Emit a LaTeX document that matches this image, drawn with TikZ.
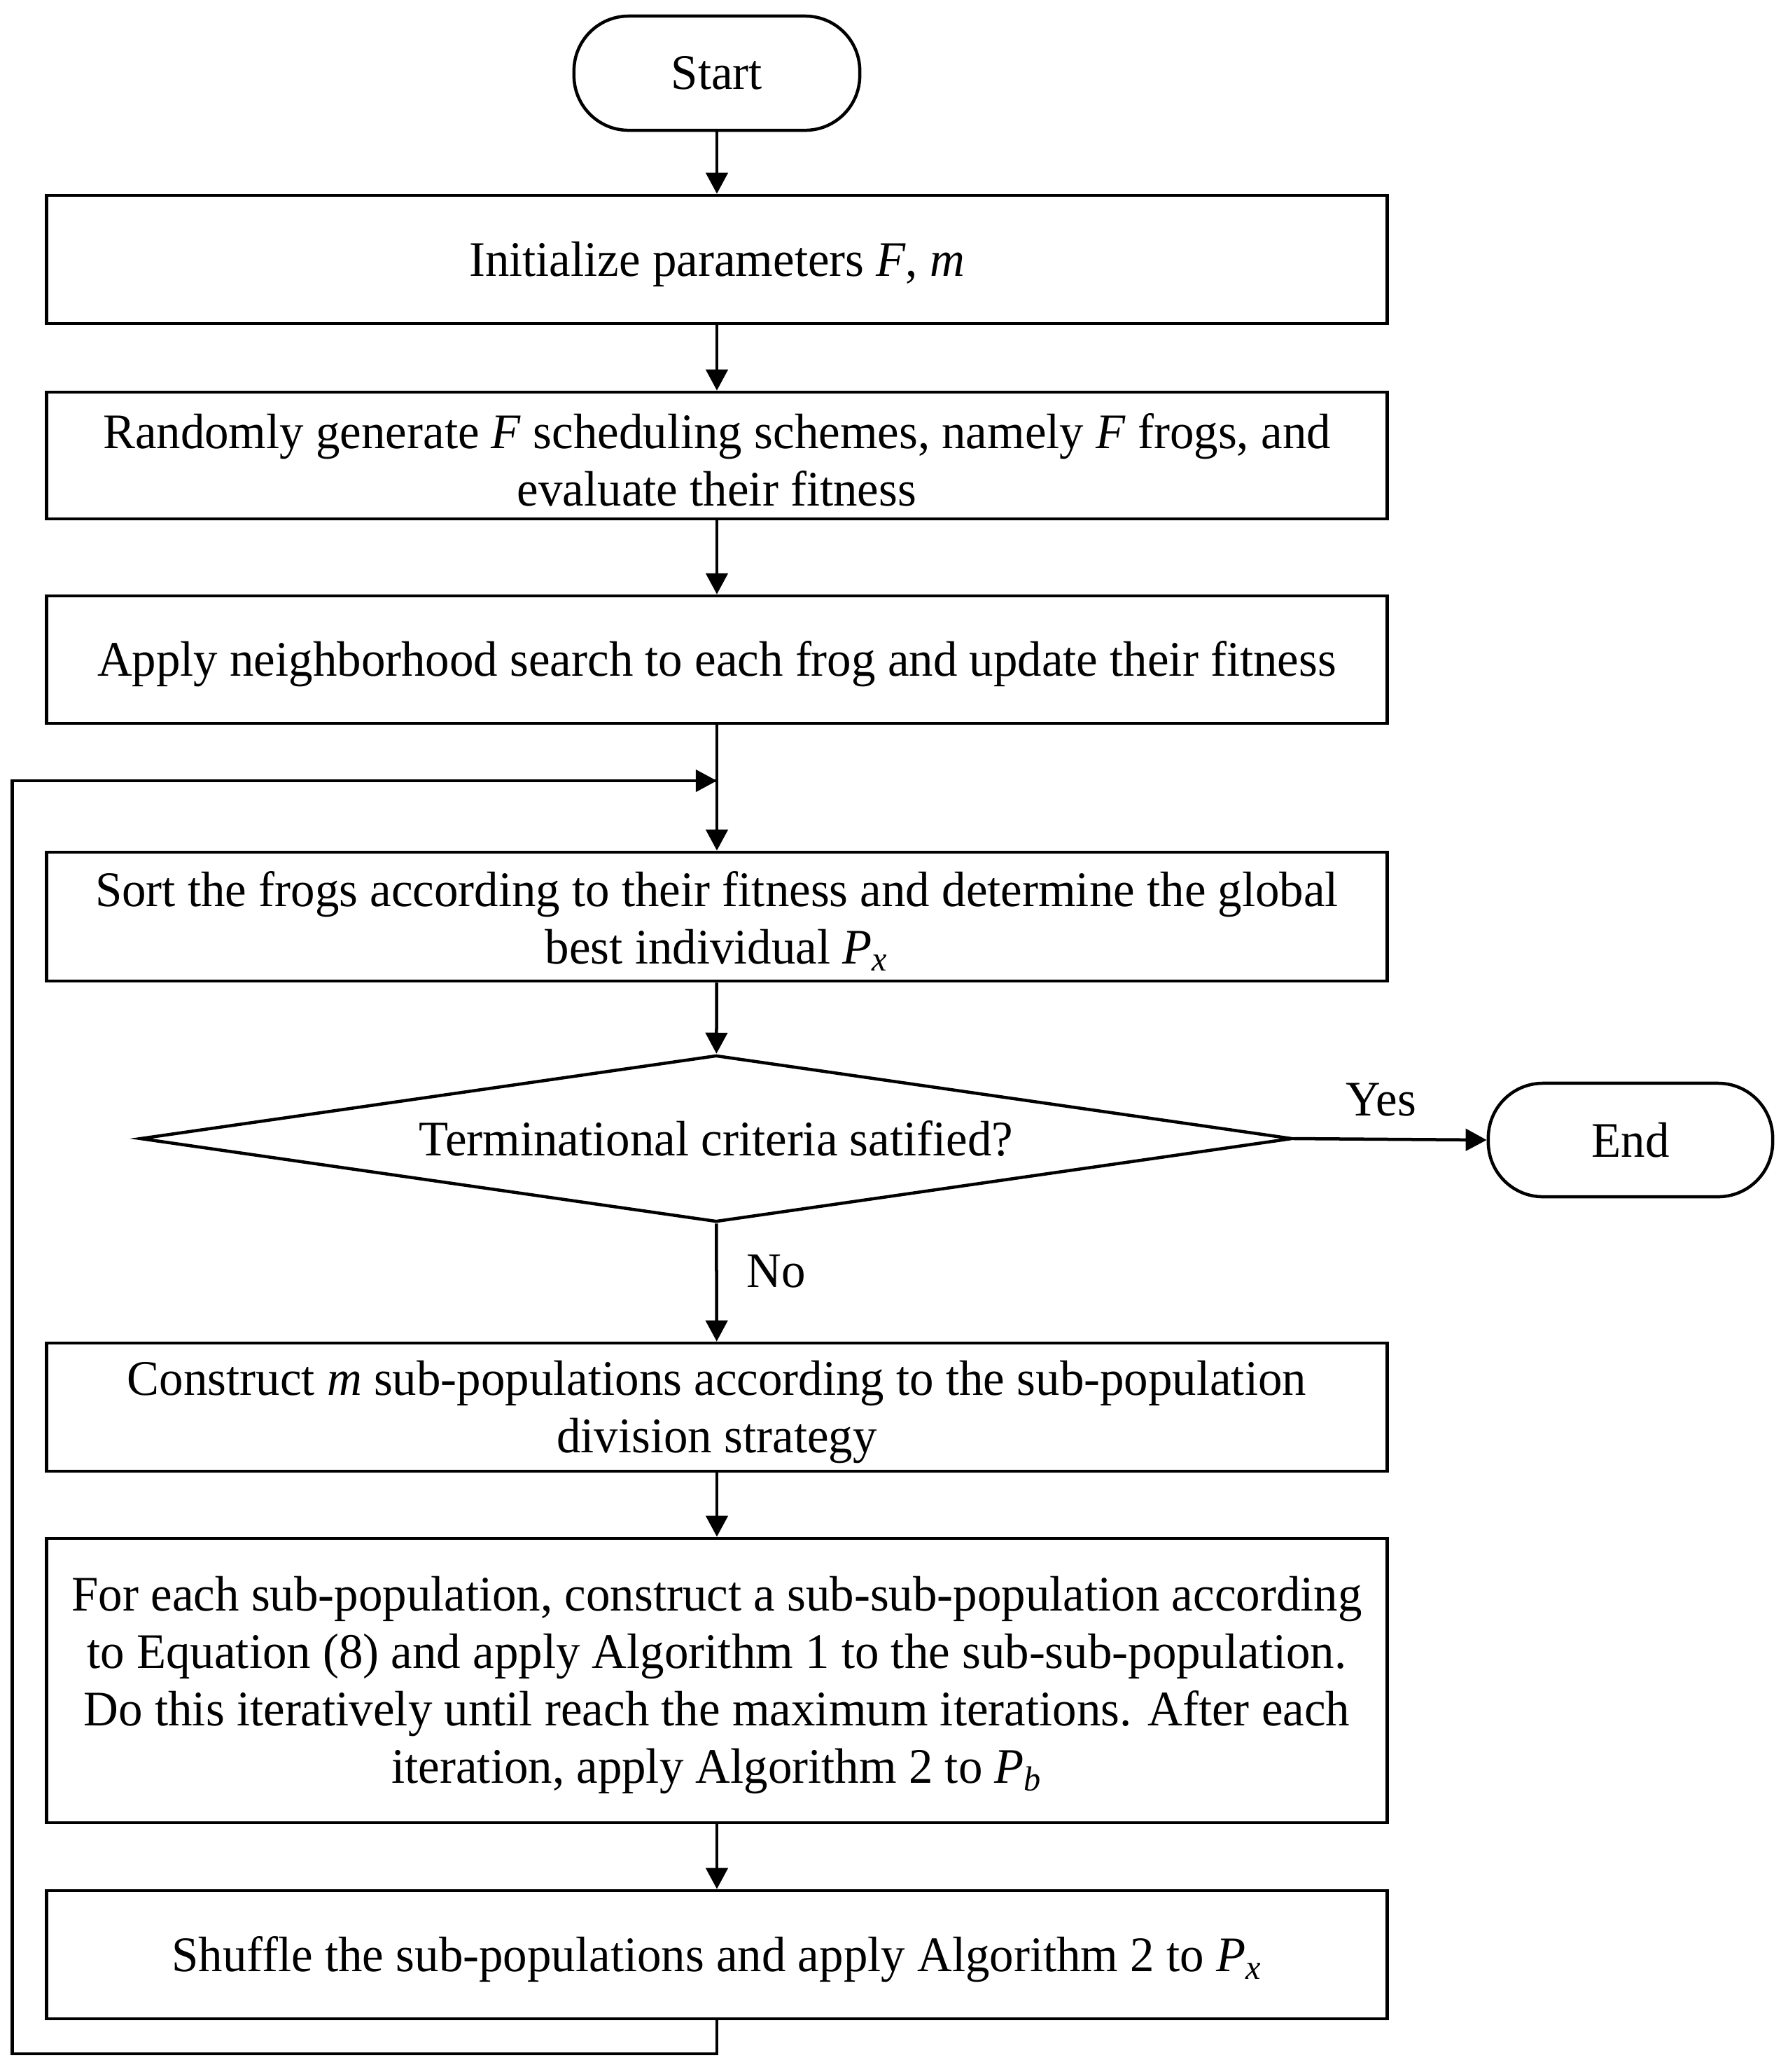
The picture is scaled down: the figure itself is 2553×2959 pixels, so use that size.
\documentclass[tikz,border=0pt]{standalone}
\usepackage{fontspec}
\setmainfont{Liberation Serif}[FakeStretch=0.97]
\usetikzlibrary{arrows.meta,shapes.geometric}
\newcommand{\tup}{\rule{0pt}{0.63cm}}
\begin{document}
\begin{tikzpicture}[x=0.01cm,y=-0.01cm,
  every node/.style={font=\fontsize{20.2}{23.3}\selectfont},
  procbox/.style={draw,line width=0.045cm,rectangle,minimum width=19.14cm,align=center,inner sep=0pt},
  termbox/.style={draw,line width=0.045cm,rectangle,rounded corners=0.78cm,minimum width=4.08cm,minimum height=1.63cm,inner sep=0pt},
  decbox/.style={draw,line width=0.045cm,diamond,aspect=6.9,minimum width=16.45cm,minimum height=2.38cm,inner sep=0pt},
  flow/.style={line width=0.045cm,-{Triangle[length=0.3cm,width=0.31cm]}},
  plainline/.style={line width=0.045cm}]
\useasboundingbox (0,0) rectangle (2553,2959);
\node[termbox] (start) at (1024,104.5) {Start};
\node[procbox,minimum height=1.83cm] (b1) at (1024,370.5) {\tup Initialize parameters \textit{F}, \textit{m}};
\node[procbox,minimum height=1.81cm] (b2) at (1024,650.5) {\tup Randomly generate \textit{F} scheduling schemes, namely \textit{F} frogs, and\\evaluate their fitness};
\node[procbox,minimum height=1.82cm] (b3) at (1024,942) {\tup Apply neighborhood search to each frog and update their fitness};
\coordinate (merge) at (1024,1115);
\node[procbox,minimum height=1.84cm] (b4) at (1024,1309) {\tup Sort the frogs according to their fitness and determine the global\\best individual \textit{P}\textsubscript{\textit{x}}};
\node[decbox] (dec) at (1023,1626) {Terminational criteria satified?};
\node[termbox,minimum width=4.06cm,minimum height=1.62cm] (end) at (2329,1628) {End};
\node[procbox,minimum height=1.83cm] (b5) at (1024,2009.5) {\tup Construct \textit{m} sub-populations according to the sub-population\\division strategy};
\node[procbox,minimum height=4.06cm] (b6) at (1024,2400) {\tup For each sub-population, construct a sub-sub-population according\\to Equation (8) and apply Algorithm 1 to the sub-sub-population.\\Do this iteratively until reach the maximum iterations. After each\\iteration, apply Algorithm 2 to \textit{P}\textsubscript{\textit{b}}};
\node[procbox,minimum height=1.83cm] (b7) at (1024,2791.5) {\tup Shuffle the sub-populations and apply Algorithm 2 to \textit{P}\textsubscript{\textit{x}}};
\coordinate (lb) at (1024,2933);
\coordinate (ll) at (17.5,2933);
\coordinate (lt) at (17.5,1115);
\node[anchor=base] (yes) at (1973,1593) {Yes};
\node[anchor=base] (no) at (1109,1838) {No};
\draw[flow] (start) -- (b1);
\draw[flow] (b1) -- (b2);
\draw[flow] (b2) -- (b3);
\draw[flow] (b3) -- (b4);
\draw[flow] (b4) -- (dec);
\draw[flow] (dec.east) -- (end.west);
\draw[flow] (dec) -- (b5);
\draw[flow] (b5) -- (b6);
\draw[flow] (b6) -- (b7);
\draw[plainline] (b7.south) -- (lb) -- (ll) -- (lt) -- (merge);
\draw[flow] (lt) -- (merge);
\end{tikzpicture}
\end{document}
